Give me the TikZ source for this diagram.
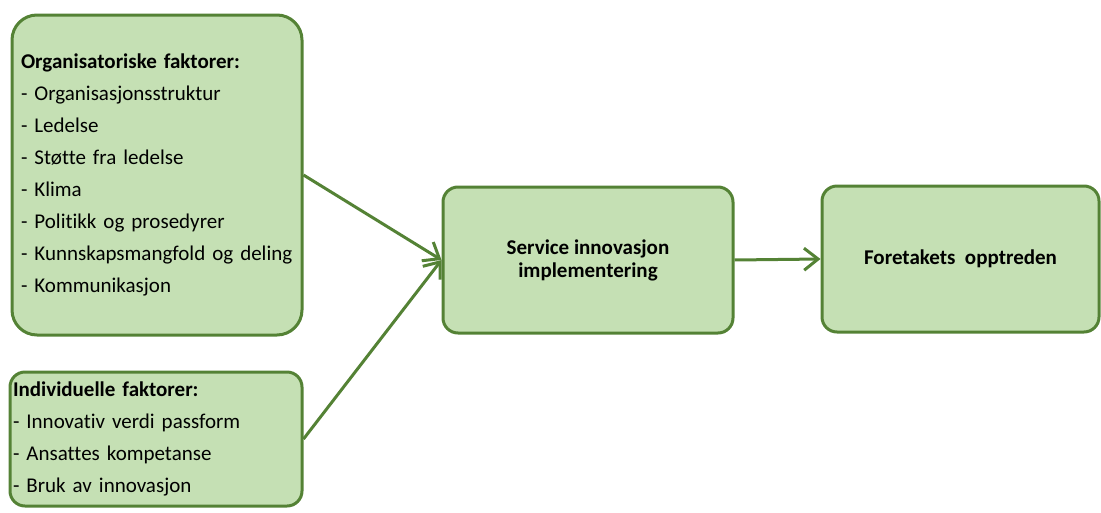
\documentclass[tikz,border=0pt]{standalone}
\usepackage{fontspec}
\setmainfont{Carlito}[Ligatures=NoCommon]
\usetikzlibrary{arrows.meta}
\definecolor{boxfill}{HTML}{C5E0B4}
\definecolor{boxline}{HTML}{548235}

\begin{document}
\begin{tikzpicture}[x=1pt, y=-1pt,
  factor/.style={draw=boxline, fill=boxfill, line width=3pt, rounded corners=15pt,
    align=left, inner ysep=0pt, font=\fontsize{21}{32}\selectfont},
  stage/.style={draw=boxline, fill=boxfill, line width=3pt, rounded corners=15pt,
    align=center, font=\bfseries\fontsize{21}{23}\selectfont, minimum height=146pt},
  link/.style={draw=boxline, line width=3pt, -{Straight Barb[length=14pt,width=22pt]}}]
  \useasboundingbox (0,0) rectangle (1101,512);

  % factor boxes on the left
  \node (org) [factor, rounded corners=25pt, text width=272pt, inner xsep=9pt, minimum height=320pt] at (157,175)
    {\textbf{Organisatoriske faktorer:}\\
     - Organisasjonsstruktur\\
     - Ledelse\\
     - Støtte fra ledelse\\
     - Klima\\
     - Politikk og prosedyrer\\
     - Kunnskapsmangfold og deling\\
     - Kommunikasjon};
  \node (ind) [factor, text width=286pt, inner xsep=3pt, minimum height=134pt] at (156,439)
    {\textbf{Individuelle faktorer:}\\
     - Innovativ verdi passform\\
     - Ansattes kompetanse\\
     - Bruk av innovasjon};

  % implementation and outcome
  \node (svc) [stage, minimum width=290pt] at (588,260) {Service innovasjon\\implementering};
  \node (res) [stage, minimum width=277pt] at (960.5,259) {Foretakets\ \ opptreden};

  \draw [link] (org.east) -- (svc.west);
  \draw [link] (ind.east) -- (svc.west);
  \draw [link] (svc.east) -- (res.west);
\end{tikzpicture}
\end{document}
